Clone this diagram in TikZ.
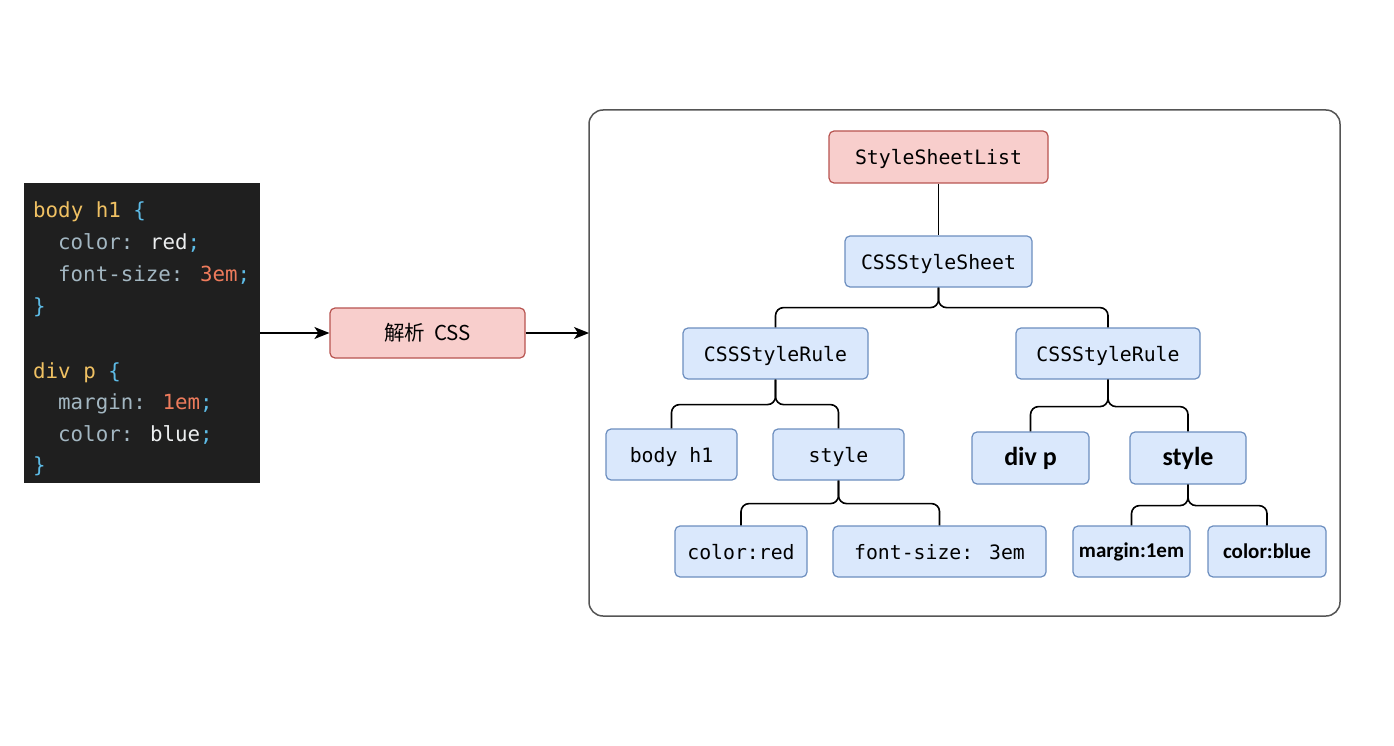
\documentclass[tikz,border=0pt]{standalone}
\usepackage{fontspec}
\setmainfont{Carlito}
\setmonofont{DejaVu Sans Mono}
\newfontfamily\cjkfont{Noto Sans CJK SC}
\newfontfamily\treemono{DejaVu Sans Mono}
\usetikzlibrary{arrows.meta,calc}
\definecolor{redfill}{HTML}{F8CECC}
\definecolor{redline}{HTML}{B85450}
\definecolor{bluefill}{HTML}{DAE8FC}
\definecolor{blueline}{HTML}{6C8EBF}
\definecolor{codebg}{HTML}{1F1F1F}
\definecolor{ckey}{HTML}{F0C163}
\definecolor{cbrace}{HTML}{5DBBE6}
\definecolor{cprop}{HTML}{A3B7C2}
\definecolor{cval}{HTML}{EDEFF0}
\definecolor{cnum}{HTML}{EE7B5C}
\definecolor{frame}{HTML}{555555}
\tikzset{
  box/.style={rounded corners=5pt, line width=1.2pt, inner sep=0pt, align=center},
  redbox/.style={box, fill=redfill, draw=redline},
  bluebox/.style={box, fill=bluefill, draw=blueline},
  monotxt/.style={font=\treemono\fontsize{19.8}{22}\selectfont, text height=17pt, text depth=1pt},
  boldtxt/.style={font=\bfseries\fontsize{26}{30}\selectfont},
  smalltxt/.style={font=\bfseries\fontsize{21}{24}\selectfont},
  conn/.style={line width=1.6pt, draw=black, rounded corners=8pt},
  arr/.style={line width=1.6pt, -{Stealth[length=15pt,width=12pt,inset=4pt]}},
  codeline/.style={anchor=base west, inner sep=0pt, font=\ttfamily\fontsize{20.8}{24}\selectfont}
}
\begin{document}
\begin{tikzpicture}[x=1pt,y=-1pt]
\useasboundingbox[fill=white] (0,0) rectangle (1394,746);
% code block
\fill[codebg] (24,183) rectangle (260,483);
\coordinate (codeR) at (260,333);
\node[codeline] (l1) at (33,218) {\textcolor{ckey}{body h1} \textcolor{cbrace}{\{}};
\node[codeline] (l2) at (58,249.5) {\textcolor{cprop}{color:} \textcolor{cval}{red}\textcolor{cbrace}{;}};
\node[codeline] (l3) at (58,281) {\textcolor{cprop}{font-size:} \textcolor{cnum}{3em}\textcolor{cbrace}{;}};
\node[codeline] (l4) at (33,313) {\textcolor{cbrace}{\}}};
\node[codeline] (l5) at (33,378) {\textcolor{ckey}{div p} \textcolor{cbrace}{\{}};
\node[codeline] (l6) at (58,409.5) {\textcolor{cprop}{margin:} \textcolor{cnum}{1em}\textcolor{cbrace}{;}};
\node[codeline] (l7) at (58,441) {\textcolor{cprop}{color:} \textcolor{cval}{blue}\textcolor{cbrace}{;}};
\node[codeline] (l8) at (33,472.5) {\textcolor{cbrace}{\}}};
% parse node
\node[redbox, minimum width=195pt, minimum height=50pt, font=\cjkfont\fontsize{20.5}{24}\selectfont] (parse) at (427.5,333) {解析\hspace{9pt}CSS};
% container
\draw[frame, line width=1.5pt, rounded corners=14pt] (589,110) rectangle (1340,616);
\coordinate (contL) at (589,333);
\draw[arr] (codeR) -- (parse.west);
\draw[arr] (parse.east) -- (contL);
% tree nodes
\node[redbox, monotxt, minimum width=219pt, minimum height=52pt] (ssl) at (938.5,157) {StyleSheetList};
\node[bluebox, monotxt, minimum width=187pt, minimum height=51pt] (css) at (938.5,261.5) {CSSStyleSheet};
\node[bluebox, monotxt, minimum width=185pt, minimum height=51pt] (r1) at (775.5,353.5) {CSSStyleRule};
\node[bluebox, monotxt, minimum width=184pt, minimum height=51pt] (r2) at (1108,353.5) {CSSStyleRule};
\node[bluebox, monotxt, minimum width=131pt, minimum height=51pt] (bh1) at (671.5,454.5) {body h1};
\node[bluebox, monotxt, minimum width=131pt, minimum height=51pt] (st1) at (838.5,454.5) {style};
\node[bluebox, boldtxt, minimum width=117pt, minimum height=52pt] (divp) at (1030.5,458) {div p};
\node[bluebox, boldtxt, minimum width=116pt, minimum height=52pt] (st2) at (1188,458) {style};
\node[bluebox, monotxt, minimum width=132pt, minimum height=51pt] (cred) at (741,551.5) {color:red};
\node[bluebox, monotxt, minimum width=213pt, minimum height=51pt] (fsz) at (939.5,551.5) {font-size: 3em};
\node[bluebox, smalltxt, minimum width=117pt, minimum height=51pt] (marg) at (1131.5,551.5) {margin:1em};
\node[bluebox, smalltxt, minimum width=118pt, minimum height=51pt] (cblue) at (1267,551.5) {color:blue};
% connectors
\draw[conn] (ssl.south) -- (css.north);
\draw[conn] (css.south) -- ++(0,20) -| (r1.north);
\draw[conn] (css.south) -- ++(0,20) -| (r2.north);
\draw[conn] (r1.south) -- ++(0,25) -| (bh1.north);
\draw[conn] (r1.south) -- ++(0,25) -| (st1.north);
\draw[conn] (r2.south) -- ++(0,27) -| (divp.north);
\draw[conn] (r2.south) -- ++(0,27) -| (st2.north);
\draw[conn] (st1.south) -- ++(0,23) -| (cred.north);
\draw[conn] (st1.south) -- ++(0,23) -| (fsz.north);
\draw[conn] (st2.south) -- ++(0,21) -| (marg.north);
\draw[conn] (st2.south) -- ++(0,21) -| (cblue.north);
\end{tikzpicture}
\end{document}
